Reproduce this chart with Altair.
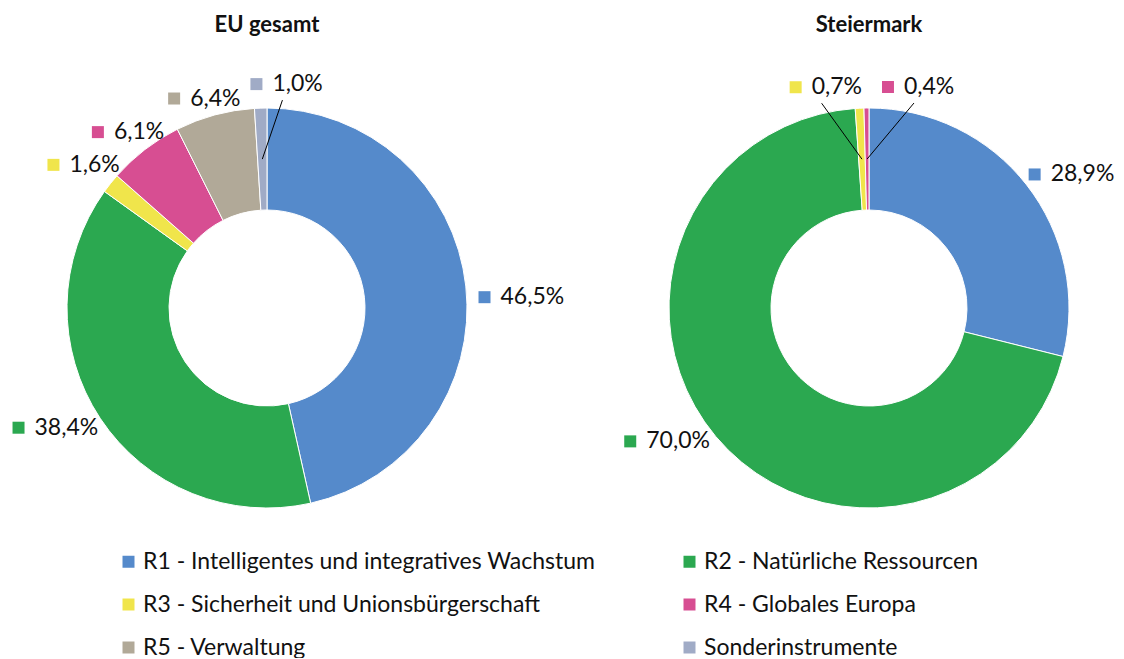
import math
import altair as alt
import pandas as pd

# ---------------- data ----------------
categories = [
    "R1 - Intelligentes und integratives Wachstum",
    "R2 - Natürliche Ressourcen",
    "R3 - Sicherheit und Unionsbürgerschaft",
    "R4 - Globales Europa",
    "R5 - Verwaltung",
    "Sonderinstrumente",
]
regions = ["EU gesamt", "Steiermark"]
eu_values = [46.5, 38.4, 1.6, 6.1, 6.4, 1.0]
stmk_values = [28.9, 70.0, 0.7, 0.4, 0.0, 0.0]

# ---------------- style / layout ----------------
colors = ["#558ACB", "#2BA850", "#F0E54B", "#D74E92", "#B1A998", "#A0ABC6"]
FONT = "Lato"
W, H = 1108, 650
centers = {"EU gesamt": (259, 300), "Steiermark": (861, 300)}
R_OUT, R_IN = 200, 98
R_LAB = 205          # label anchor radius
R_MID = 149          # leader line end radius
LBL_SIZE = 23
# label placement nudges (dx, dy) in px, relative to the automatic position
nudges = {
    ("EU gesamt", categories[0]): (8, 13),
    ("EU gesamt", categories[1]): (-6, 0),
    ("EU gesamt", categories[2]): (5, -8),
    ("EU gesamt", categories[3]): (8, -4),
    ("EU gesamt", categories[5]): (27, -7),
    ("Steiermark", categories[0]): (7, 0),
    ("Steiermark", categories[1]): (-13, -6),
    ("Steiermark", categories[2]): (-32, -4),
    ("Steiermark", categories[3]): (52, -4),
}
# slices whose labels are pulled away and connected with a leader line
leader_keys = {("EU gesamt", categories[5]), ("Steiermark", categories[2]),
               ("Steiermark", categories[3])}
# legend fills column-wise: list entries so that rows read R1 R2 / R3 R4 / R5 Sonder
legend_order = [categories[i] for i in (0, 2, 4, 1, 3, 5)]

rows = []
for region, vals in zip(regions, [eu_values, stmk_values]):
    for i, (cat, v) in enumerate(zip(categories, vals)):
        if v <= 0:
            continue
        ndx, ndy = nudges.get((region, cat), (0, 0))
        rows.append(dict(region=region, category=cat, value=v, order=i,
                         cx=centers[region][0], cy=centers[region][1],
                         ndx=ndx, ndy=ndy, leader=(region, cat) in leader_keys))
df = pd.DataFrame(rows)
title_df = pd.DataFrame({"region": regions,
                         "tx": [centers[r][0] for r in regions],
                         "ty": [17 for _ in regions]})

xs = alt.Scale(domain=[0, W], nice=False, zero=False)
ys = alt.Scale(domain=[H, 0], nice=False, zero=False)
cs = alt.Scale(domain=categories, range=colors)
legend = alt.Legend(orient="none", legendX=109, legendY=542, columns=2,
                    columnPadding=82, rowPadding=19, symbolType="square",
                    symbolSize=144, symbolStrokeWidth=0, symbolOpacity=1,
                    labelFont=FONT, labelFontSize=LBL_SIZE, labelColor="#111",
                    labelOffset=3, labelLimit=0, title=None, padding=0,
                    values=legend_order)
color = alt.Color("category:N", scale=cs, legend=legend)

base = (
    alt.Chart(df)
    .transform_window(cum="sum(value)", groupby=["region"],
                      sort=[alt.SortField("order")], frame=[None, 0])
    .transform_calculate(
        start="datum.cum - datum.value",
        mid="(datum.cum - datum.value/2) / 100 * 2 * PI",
        label="replace(format(datum.value, '.1f'), '.', ',') + '%'",
    )
    .transform_calculate(hw="(22 + 12.5 * length(datum.label)) / 2")
    .transform_calculate(
        lx=f"datum.cx + ({R_LAB} + datum.hw) * sin(datum.mid) + datum.ndx",
        ly=f"datum.cy - ({R_LAB} + 12) * cos(datum.mid) + datum.ndy",
    )
    .transform_calculate(
        sqx="datum.lx - datum.hw + 6",
        txx="datum.lx - datum.hw + 22",
        x1="datum.lx - 4",
        y1="datum.ly + 16",
        x2=f"datum.cx + {R_MID} * sin(datum.mid)",
        y2=f"datum.cy - {R_MID} * cos(datum.mid)",
    )
)

arcs = base.mark_arc(outerRadius=R_OUT, innerRadius=R_IN, stroke="white",
                     strokeWidth=1).encode(
    theta=alt.Theta("start:Q", scale=alt.Scale(domain=[0, 100], range=[0, 2 * math.pi])),
    theta2=alt.Theta2("cum:Q"),
    x=alt.X("cx:Q", scale=xs, axis=None),
    y=alt.Y("cy:Q", scale=ys, axis=None),
    color=color,
    order=alt.Order("order:Q"),
)

leaders = base.transform_filter("datum.leader").mark_rule(
    color="black", strokeWidth=1).encode(
    x=alt.X("x1:Q", scale=xs, axis=None),
    y=alt.Y("y1:Q", scale=ys, axis=None),
    x2="x2:Q",
    y2="y2:Q",
)

squares = base.mark_square(size=144, opacity=1, filled=True, strokeWidth=0).encode(
    x=alt.X("sqx:Q", scale=xs, axis=None),
    y=alt.Y("ly:Q", scale=ys, axis=None),
    color=color,
)

texts = base.mark_text(align="left", baseline="middle", font=FONT,
                       fontSize=LBL_SIZE, color="#111").encode(
    x=alt.X("txx:Q", scale=xs, axis=None),
    y=alt.Y("ly:Q", scale=ys, axis=None),
    text="label:N",
)

titles = alt.Chart(title_df).mark_text(font=FONT, fontWeight="bold", fontSize=22,
                                       baseline="middle", color="#111").encode(
    x=alt.X("tx:Q", scale=xs, axis=None),
    y=alt.Y("ty:Q", scale=ys, axis=None),
    text="region:N",
)

chart = (
    alt.layer(arcs, leaders, squares, texts, titles)
    .properties(width=W, height=H, autosize=alt.AutoSizeParams(type="none"), padding=0)
    .configure_view(stroke=None, strokeWidth=0)
)

chart.save("out.html", embed_options={"renderer": "svg", "actions": False})
